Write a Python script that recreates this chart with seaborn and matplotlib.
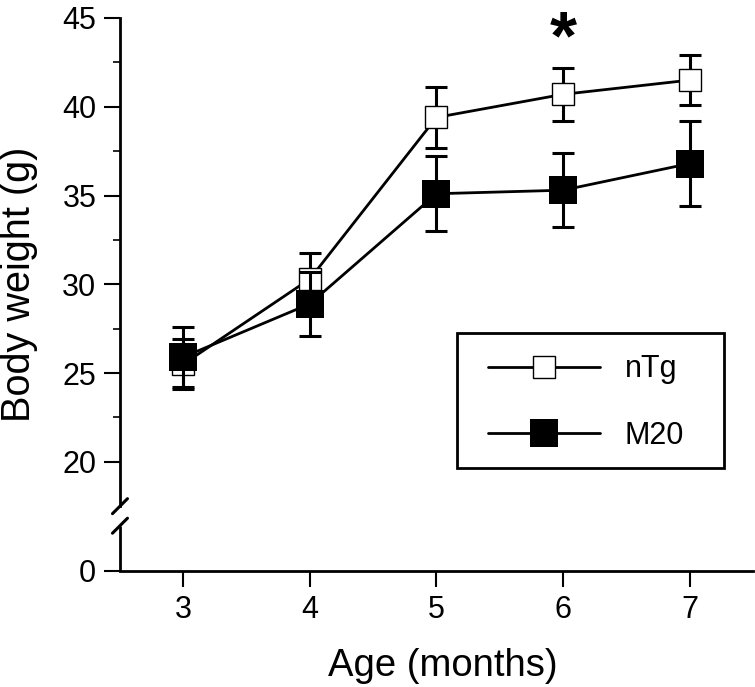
import numpy as np
import pandas as pd
import seaborn as sns
import matplotlib.pyplot as plt
import matplotlib.transforms as mtransforms
from matplotlib.patches import Rectangle

# values (mean +/- error)
ages = [3, 4, 5, 6, 7]
ntg_mean = [25.5, 30.3, 39.4, 40.7, 41.5]
ntg_err = [1.4, 1.45, 1.7, 1.5, 1.4]
m20_mean = [25.9, 28.9, 35.1, 35.3, 36.8]
m20_err = [1.7, 1.8, 2.1, 2.1, 2.4]

groups = ["nTg", "M20"]
y_ticks = [20, 25, 30, 35, 40, 45]
y_minor = [22.5, 27.5, 32.5, 37.5, 42.5]
star_age = 6

# broken axis: the "0" sits at the bottom of the axes
y_bottom = 13.85
y_top = 45
break_hi = 17.5
break_lo = 16.4

sns.set_style("ticks")
plt.rcParams['font.family'] = ['Liberation Sans', 'DejaVu Sans']
plt.rcParams['text.color'] = 'black'
plt.rcParams['axes.labelcolor'] = 'black'

df = pd.DataFrame({
    "age": ages * 2,
    "weight": ntg_mean + m20_mean,
    "err": ntg_err + m20_err,
    "group": [groups[0]] * len(ages) + [groups[1]] * len(ages),
})

fig = plt.figure(figsize=(7.55, 6.87), dpi=100)
ax = fig.add_axes([0.1589, 0.1689, 0.8384, 0.8049])

styles = {
    "nTg": dict(marker='s', markersize=16.5, markerfacecolor='white',
                markeredgecolor='black', markeredgewidth=1.0),
    "M20": dict(marker='s', markersize=19.5, markerfacecolor='black',
                markeredgecolor='black', markeredgewidth=0.0),
}

handles = []
for i, g in enumerate(groups):
    sub = df[df["group"] == g]
    z = 2 + i
    ax.errorbar(sub["age"], sub["weight"], yerr=sub["err"], fmt='none',
                ecolor='black', elinewidth=2.2, capsize=8, capthick=2.2,
                zorder=z)
    sns.lineplot(data=sub, x="age", y="weight", color='black', linewidth=2,
                 legend=False, ax=ax, zorder=z + 0.5, **styles[g])
    handles.append(ax.lines[-1])

# significance mark
ax.text(star_age, 43.75, '*', ha='center', va='center', fontsize=50,
        fontweight='bold', color='black')

ax.set_xlim(2.5, 7.5)
ax.set_ylim(y_bottom, y_top)
ax.set_xticks(ages)
ax.set_yticks([y_bottom] + y_ticks)
ax.set_yticklabels(['0'] + [str(t) for t in y_ticks])
ax.set_yticks(y_minor, minor=True)

ax.tick_params(axis='both', which='major', length=11.5, width=1.5,
               labelsize=22, color='black', labelcolor='black')
ax.tick_params(axis='y', which='major', pad=5.5)
ax.tick_params(axis='x', which='major', pad=5.5)
ax.tick_params(axis='y', which='minor', length=5, width=1.2, color='black')

for s in ['top', 'right']:
    ax.spines[s].set_visible(False)
for s in ['left', 'bottom']:
    ax.spines[s].set_linewidth(2)
    ax.spines[s].set_color('black')
ax.spines['left'].set_bounds(break_hi, y_top)

# lower piece of the y axis and the break marks
trans = mtransforms.blended_transform_factory(ax.transAxes, ax.transData)
ax.plot([0, 0], [y_bottom, break_lo], color='black', lw=2, transform=trans,
        clip_on=False, solid_capstyle='butt')
dx = 7.5 / 633
dy = 7.5 / 553 * (y_top - y_bottom)
for yb in [break_hi, break_lo]:
    ax.plot([-dx, dx], [yb - dy, yb + dy], color='black', lw=2.2,
            transform=trans, clip_on=False)

ax.set_xlabel('Age (months)', fontsize=27.5)
ax.set_ylabel('Body weight (g)', fontsize=28.5)
ax.xaxis.set_label_coords(0.51, -0.139)
ax.yaxis.set_label_coords(-0.1295, 0.519)
ax.xaxis.label.set_va('top')

# legend with a plain square box
ax.add_patch(Rectangle((0.532, 0.186), 0.422, 0.244, transform=ax.transAxes,
                       fill=False, lw=2, edgecolor='black', clip_on=False,
                       zorder=5))
ax.legend(handles, groups, loc='upper left', bbox_to_anchor=(0.5814, 0.392),
          frameon=False, fontsize=22, handlelength=3.66, handletextpad=0.82,
          labelspacing=1.2, borderpad=0, borderaxespad=0)

plt.savefig('out.png', dpi=100)
